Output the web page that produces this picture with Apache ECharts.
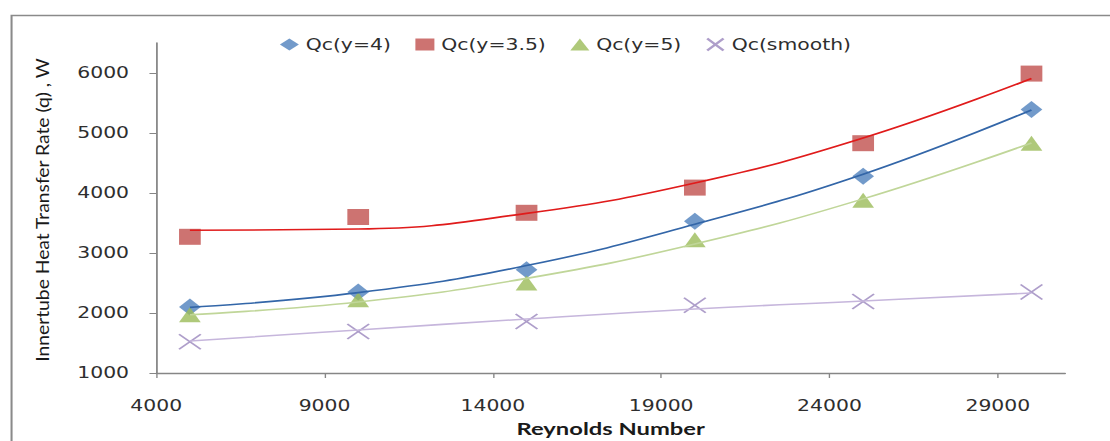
<!DOCTYPE html>
<html>
<head>
<meta charset="utf-8">
<title>Innertube heat transfer rate vs Reynolds number</title>
<script src="https://cdn.jsdelivr.net/npm/echarts@6/dist/echarts.min.js"></script>
<style>
  html, body { margin: 0; padding: 0; background: #ffffff; overflow: hidden; }
  #chart {
    width: 817px; height: 441px;
    transform: scaleX(1.3586);
    transform-origin: 0 0;
  }
</style>
</head>
<body>
<div id="chart"></div>
<script>
// Reynolds numbers of the test runs
const reynolds = [5000, 10000, 15000, 20000, 25000, 30000];

// Measured heat transfer rate, W
const qcY4 = [2100, 2350, 2720, 3530, 4280, 5390];
const qcY35 = [3270, 3600, 3670, 4090, 4830, 5990];
const qcY5 = [1970, 2220, 2500, 3220, 3880, 4830];
const qcSmooth = [1520, 1690, 1860, 2130, 2190, 2350];

// Fitted trend curves at the same Reynolds numbers
const trendY4 = [2094, 2339, 2790, 3480, 4313, 5384];
const trendY35 = [3380, 3399, 3661, 4167, 4916, 5908];
const trendY5 = [1971, 2184, 2577, 3150, 3902, 4834];
const trendSmooth = [1533, 1717, 1900, 2067, 2200, 2333];

// Axis tick labels
const xTicks = [4000, 9000, 14000, 19000, 24000, 29000];
const yTicks = [1000, 2000, 3000, 4000, 5000, 6000];

const seriesNames = ['Qc(y=4)', 'Qc(y=3.5)', 'Qc(y=5)', 'Qc(smooth)'];

const pairs = (xs, ys) => xs.map((x, i) => [x, ys[i]]);

const yTitle = 'Innertube Heat Transfer Rate (q) , W';
const yTitleFont = '13px Lato';
function lengthScale(text, font, target) {
  const ctx = document.createElement('canvas').getContext('2d');
  ctx.font = font;
  return target / ctx.measureText(text).width;
}

const tickFont = { fontFamily: 'DejaVu Sans', fontSize: 15, color: '#2e2e2e' };
const axisGray = '#868686';

const chart = echarts.init(document.getElementById('chart'), null, { renderer: 'svg' });

const markerSeries = (name, data, symbol, size, itemStyle) => ({
  name, type: 'scatter', data: pairs(reynolds, data),
  symbol, symbolSize: size, itemStyle, z: 2,
  emphasis: { disabled: true }
});
const trendSeries = (name, data, color) => ({
  name: name + ' trend', type: 'line', data: pairs(reynolds, data),
  symbol: 'none', smooth: 0.45, z: 3,
  lineStyle: { color, width: 1.6 },
  emphasis: { disabled: true }
});

chart.setOption({
  animation: false,
  backgroundColor: '#ffffff',
  graphic: [
    {
      type: 'rect', left: 6, top: 13, silent: true,
      shape: { width: 900, height: 500 },
      style: { fill: 'none', stroke: '#8a8a8a', lineWidth: 1.5 }
    },
    {
      type: 'text', x: 31, y: 210, rotation: Math.PI / 2,
      scaleX: lengthScale(yTitle, yTitleFont, 305), scaleY: 1,
      style: {
        text: yTitle, font: yTitleFont, fill: '#1a1a1a',
        textAlign: 'center', textVerticalAlign: 'middle'
      }
    }
  ],
  legend: {
    data: seriesNames,
    left: 201, top: 32,
    itemWidth: 14, itemHeight: 12, itemGap: 18,
    textStyle: { fontFamily: 'DejaVu Sans', fontSize: 15, color: '#2e2e2e' }
  },
  grid: { left: 115, right: 33, top: 43, bottom: 68, outerBoundsMode: 'none', containLabel: false },
  xAxis: {
    type: 'value', min: 4000, max: 31000, interval: 5000,
    name: 'Reynolds Number', nameLocation: 'middle', nameGap: 46,
    nameTextStyle: { fontFamily: 'Lato', fontWeight: 'bold', fontSize: 17.5, color: '#1a1a1a' },
    axisLine: { show: true, lineStyle: { color: axisGray, width: 1.3 } },
    axisTick: { show: true, length: 5, lineStyle: { color: axisGray }, customValues: xTicks },
    axisLabel: Object.assign({ margin: 25, customValues: xTicks, formatter: v => String(v) }, tickFont),
    splitLine: { show: false }
  },
  yAxis: {
    type: 'value', min: 1000, max: 6500, interval: 1000,
    axisLine: { show: true, lineStyle: { color: axisGray, width: 1.3 } },
    axisTick: { show: true, length: 5, lineStyle: { color: axisGray }, customValues: yTicks },
    axisLabel: Object.assign({ margin: 20, customValues: yTicks, formatter: v => String(v) }, tickFont),
    splitLine: { show: false }
  },
  series: [
    markerSeries(seriesNames[0], qcY4, 'diamond', [16, 17], { color: '#4f81bd' }),
    markerSeries(seriesNames[1], qcY35, 'rect', 16, { color: '#c0504d' }),
    markerSeries(seriesNames[2], qcY5, 'triangle', [16, 15], { color: '#9bbb59' }),
    markerSeries(seriesNames[3], qcSmooth, 'path://M0,0L10,10M10,0L0,10', [16, 15],
      { color: 'rgba(0,0,0,0)', borderColor: '#9a86bd', borderWidth: 1.5 }),
    trendSeries(seriesNames[0], trendY4, '#3366a8'),
    trendSeries(seriesNames[1], trendY35, '#e01b1b'),
    trendSeries(seriesNames[2], trendY5, '#c0d699'),
    trendSeries(seriesNames[3], trendSmooth, '#c6b6dc')
  ]
});
</script>
</body>
</html>
